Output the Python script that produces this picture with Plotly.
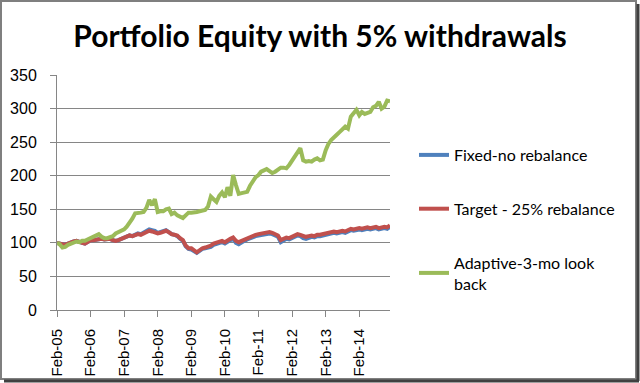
import plotly.graph_objects as go
import pandas as pd

dates = pd.date_range("2005-02-01", periods=120, freq="MS")

fixed_no_rebalance = [
    100, 99, 97, 97, 99, 101, 102, 103, 101, 100, 99, 102,
    104, 104, 105, 106, 106, 105, 106, 106, 104, 103, 104, 106,
    108, 110, 111, 110, 112, 114, 113, 115, 118, 120, 119, 118,
    115, 116, 118, 119, 116, 113, 112, 110, 106, 103, 95, 91,
    90, 88, 85, 88, 91, 92, 93, 94, 97, 98, 100, 101,
    99, 102, 104, 106, 100, 98, 101, 103, 105, 107, 108, 110,
    111, 112, 113, 114, 114, 113, 111, 109, 101, 104, 106, 105,
    107, 109, 111, 110, 107, 106, 108, 109, 108, 110, 110, 111,
    112, 113, 114, 115, 114, 115, 116, 115, 117, 119, 118, 119,
    120, 119, 120, 121, 120, 121, 122, 120, 121, 122, 121, 124,
]

target_25_rebalance = [
    100, 99, 97, 97, 99, 101, 102, 103, 101, 100, 99, 102,
    104, 104, 105, 106, 106, 105, 106, 106, 104, 103, 104, 106,
    108, 110, 111, 110, 111, 113, 112, 114, 116, 118, 117, 116,
    114, 115, 117, 118, 116, 113, 112, 111, 107, 104, 96, 92,
    92, 89, 86, 89, 92, 93, 94, 96, 99, 100, 102, 103,
    101, 104, 106, 108, 103, 101, 103, 105, 107, 109, 110, 112,
    113, 114, 115, 116, 116, 115, 113, 111, 104, 106, 108, 107,
    109, 111, 113, 112, 110, 109, 110, 111, 110, 112, 112, 113,
    114, 115, 116, 117, 116, 117, 118, 117, 119, 121, 120, 121,
    122, 121, 122, 123, 122, 123, 124, 122, 123, 124, 123, 126,
]

adaptive_3mo = [
    100, 98, 93, 94, 97, 99, 101, 102, 101, 103, 103, 105,
    107, 108, 110, 113, 109, 107, 107, 108, 110, 114, 116, 118,
    120, 124, 129, 136, 144, 144, 145, 146, 152, 164, 156, 165,
    146, 147, 147, 150, 151, 143, 145, 141, 139, 137, 141, 145,
    145, 145, 146, 147, 148, 149, 154, 169, 165, 161, 170, 175,
    168, 183, 170, 201, 186, 173, 174, 175, 176, 185, 192, 198,
    201, 206, 208, 210, 207, 204, 206, 210, 212, 212, 211, 216,
    222, 229, 236, 241, 223, 221, 222, 221, 224, 226, 223, 224,
    238, 247, 253, 258, 261, 265, 270, 273, 270, 288, 293, 298,
    290, 295, 292, 293, 295, 302, 304, 310, 300, 303, 312, 311,
]

series_names = ["Fixed-no rebalance", "Target - 25% rebalance", "Adaptive-3-mo look<br>back"]
series_values = [fixed_no_rebalance, target_25_rebalance, adaptive_3mo]
series_colors = ["#4F81BD", "#C0504D", "#9BBB59"]

title_text = "Portfolio Equity with 5% withdrawals"
y_ticks = [0, 50, 100, 150, 200, 250, 300, 350]

fig = go.Figure()
for i, (name, vals, col) in enumerate(zip(series_names, series_values, series_colors)):
    fig.add_trace(go.Scatter(
        x=dates, y=vals, mode="lines", name=name, legendgroup=str(i),
        line=dict(color=col, width=4),
    ))

W, H = 640, 383
L, R, T, B = 57, 250, 75, 73
pw, ph = W - L - R, H - T - B

def px2paper_x(px):
    return (px - L) / pw

def px2paper_y(py):
    return (H - B - py) / ph

fig.update_layout(
    width=W, height=H,
    margin=dict(l=L, r=R, t=T, b=B, autoexpand=False),
    paper_bgcolor="white", plot_bgcolor="white",
    title=dict(text="<b>" + title_text + "</b>", x=0.5, xanchor="center",
               y=1 - 36 / H, yanchor="middle",
               font=dict(family="Lato", size=30, color="black")),
    font=dict(family="Liberation Sans", color="black"),
    showlegend=True,
    legend=dict(x=px2paper_x(414), xanchor="left", y=px2paper_y(138), yanchor="top",
                font=dict(family="Lato", size=16, color="black"),
                tracegroupgap=30, traceorder="grouped",
                itemwidth=30, bgcolor="rgba(0,0,0,0)"),
    xaxis=dict(
        type="date", range=["2005-02-01", "2015-01-01"],
        tick0="2005-02-01", dtick="M12", tickformat="%b-%y",
        tickangle=-90, ticks="outside", ticklen=6, tickcolor="#868686",
        ticklabelstandoff=6,
        showline=True, linecolor="#868686", linewidth=1,
        showgrid=False, zeroline=False,
        tickfont=dict(family="Liberation Sans", size=15, color="black"),
    ),
    yaxis=dict(
        range=[0, 350], tickvals=y_ticks, ticks="outside", ticklen=6,
        tickcolor="#868686", showline=True, linecolor="#868686", linewidth=1,
        ticklabelstandoff=10,
        showgrid=True, gridcolor="#868686", gridwidth=1, zeroline=False,
        tickfont=dict(family="Liberation Sans", size=16, color="black"),
    ),
    shapes=[
        dict(type="rect", xref="paper", yref="paper",
             x0=px2paper_x(1), x1=px2paper_x(636), y0=px2paper_y(379), y1=px2paper_y(1),
             line=dict(color="#7f7f7f", width=2), fillcolor="rgba(0,0,0,0)", layer="below"),
        dict(type="line", xref="paper", yref="paper",
             x0=px2paper_x(638), x1=px2paper_x(638), y0=px2paper_y(381), y1=px2paper_y(4),
             line=dict(color="#404040", width=3)),
        dict(type="line", xref="paper", yref="paper",
             x0=px2paper_x(4), x1=px2paper_x(639), y0=px2paper_y(381), y1=px2paper_y(381),
             line=dict(color="#404040", width=3)),
    ],
)

fig.write_html("out.html", config={"displayModeBar": False},
               post_script="document.body.style.margin='0';")
